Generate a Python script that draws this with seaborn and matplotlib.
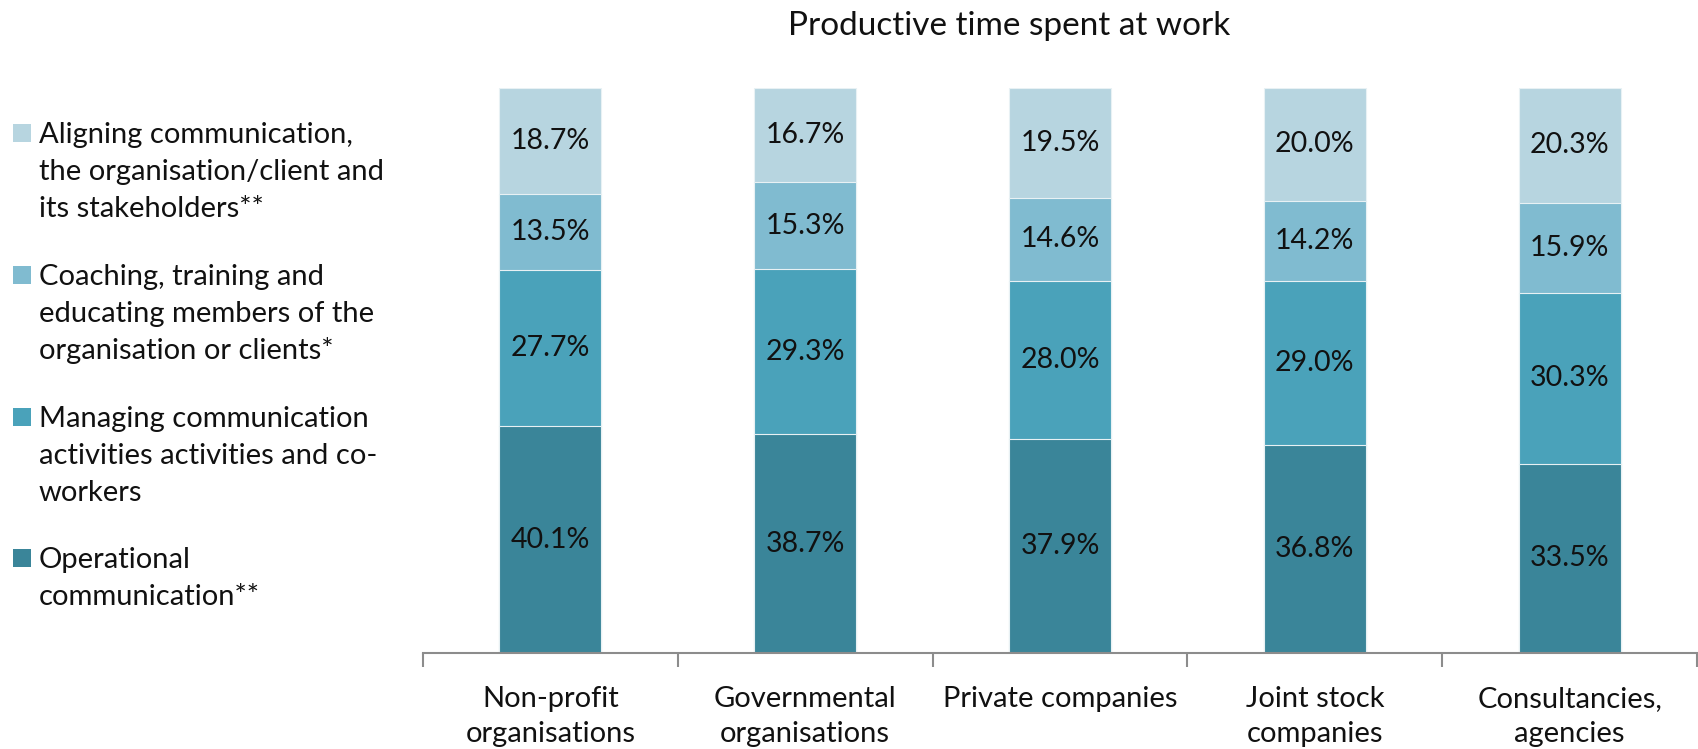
import matplotlib
matplotlib.use("Agg")
import matplotlib.pyplot as plt
from matplotlib.patches import Rectangle
import numpy as np
import pandas as pd
import seaborn as sns

categories = ["Non-profit\norganisations", "Governmental\norganisations",
              "Private companies", "Joint stock\ncompanies", "Consultancies,\nagencies"]
series_names = [
    "Operational\ncommunication**",
    "Managing communication\nactivities activities and co-\nworkers",
    "Coaching, training and\neducating members of the\norganisation or clients*",
    "Aligning communication,\nthe organisation/client and\nits stakeholders**",
]
operational = [40.1, 38.7, 37.9, 36.8, 33.5]
managing = [27.7, 29.3, 28.0, 29.0, 30.3]
coaching = [13.5, 15.3, 14.6, 14.2, 15.9]
aligning = [18.7, 16.7, 19.5, 20.0, 20.3]
colors = ["#3a8599", "#4aa2ba", "#80bbd0", "#b7d5e0"]
title = "Productive time spent at work"

sns.set_theme(style="white")
plt.rcParams["font.family"] = ["Lato", "DejaVu Sans"]

series = [operational, managing, coaching, aligning]
cum = np.cumsum(np.array(series), axis=0)

W, H = 1699, 749
fig = plt.figure(figsize=(W / 100, H / 100), dpi=100)
ax = fig.add_axes([423 / W, 1 - 653 / H, (1697 - 423) / W, (653 - 88) / H])

# Stacked bars: draw cumulative totals from the top layer down
for i in range(len(series) - 1, -1, -1):
    df = pd.DataFrame({"cat": categories, "val": cum[i]})
    sns.barplot(data=df, x="cat", y="val", color=colors[i], width=0.4,
                saturation=1, ax=ax, linewidth=0.8, edgecolor="#e8f1f4")

for i, vals in enumerate(series):
    for j, v in enumerate(vals):
        ax.text(j, cum[i][j] - v / 2, f"{v:.1f}%", ha="center", va="center",
                fontsize=20.5, color="#111111")

ax.set_xlim(-0.5, len(categories) - 0.5)
ax.set_ylim(0, 100)
ax.set_xlabel("")
ax.set_ylabel("")
ax.set_yticks([])
for s in ["top", "right", "left"]:
    ax.spines[s].set_visible(False)
ax.spines["bottom"].set_color("#8c8c8c")
ax.spines["bottom"].set_linewidth(1.5)
ax.set_xticks(range(len(categories)))
ax.set_xticklabels(categories, fontsize=21, linespacing=1.42, color="#111111")
ax.set_xticks(np.arange(-0.5, len(categories)), minor=True)
ax.tick_params(axis="x", which="major", length=0, pad=24)
ax.tick_params(axis="x", which="minor", length=10, width=1.5, color="#8c8c8c",
               direction="out", bottom=True)

fig.text(1009 / W, 1 - 26 / H, title, ha="center", va="center",
         fontsize=24, color="#111111")

# Legend on the left, top entry first; one text per line for even spacing
legend_centers = [133, 275, 417, 558]
line_pitch = 37
for k, idx in enumerate(range(len(series) - 1, -1, -1)):
    y = legend_centers[k]
    fig.patches.append(Rectangle((13 / W, 1 - (y + 9) / H), 18 / W, 18 / H,
                                 transform=fig.transFigure, facecolor=colors[idx],
                                 edgecolor="none"))
    for n, line in enumerate(series_names[idx].split("\n")):
        fig.text(39 / W, 1 - (y + 10 + n * line_pitch) / H, line, ha="left",
                 va="baseline", fontsize=21, color="#111111")

fig.savefig("out.png", dpi=100)
